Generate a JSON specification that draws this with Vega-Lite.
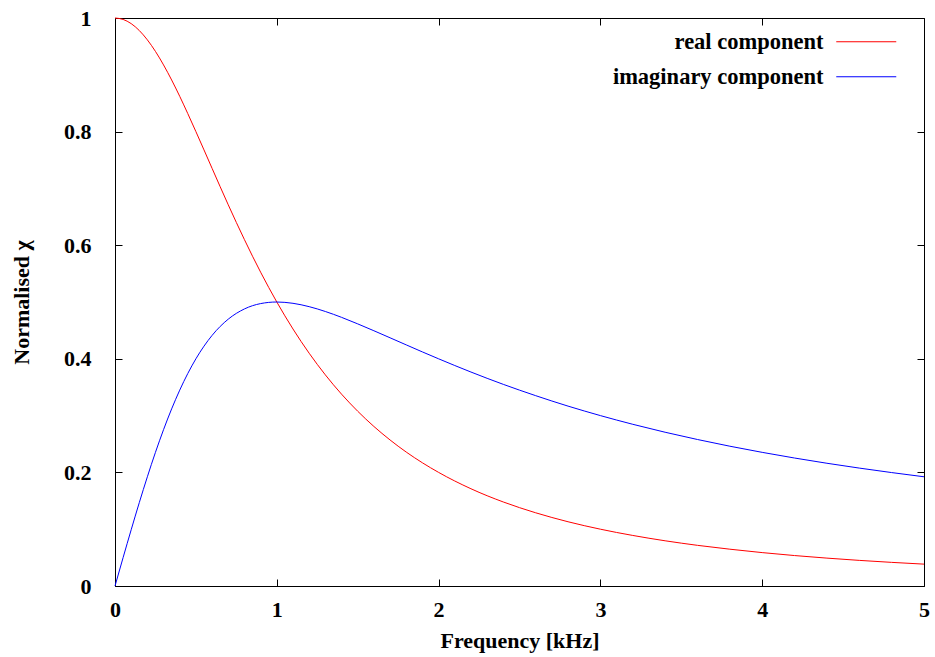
{
  "$schema": "https://vega.github.io/schema/vega-lite/v6.json",
  "width": 809,
  "height": 568,
  "autosize": {"type": "none"},
  "padding": {"left": 115, "top": 18, "right": 11, "bottom": 71},
  "background": "white",
  "config": {
    "font": "Liberation Serif",
    "view": {"stroke": "black", "strokeWidth": 1},
    "axis": {
      "grid": false,
      "domainColor": "black",
      "tickColor": "black",
      "labelFont": "Liberation Serif",
      "labelFontWeight": "bold",
      "labelFontSize": 22,
      "labelColor": "black",
      "labelFlush": false,
      "titleFont": "Liberation Serif",
      "titleFontWeight": "bold",
      "titleFontSize": 22,
      "titleColor": "black"
    },
    "legend": {
      "labelFont": "Liberation Serif",
      "labelFontWeight": "bold",
      "labelFontSize": 22.5,
      "labelColor": "black",
      "labelLimit": 400
    }
  },
  "data": {
    "values": [
      {"f": 0, "real component": 1, "imaginary component": 0},
      {"f": 0.05, "real component": 0.9975, "imaginary component": 0.0499},
      {"f": 0.1, "real component": 0.9901, "imaginary component": 0.099},
      {"f": 0.15, "real component": 0.978, "imaginary component": 0.1467},
      {"f": 0.2, "real component": 0.9615, "imaginary component": 0.1923},
      {"f": 0.25, "real component": 0.9412, "imaginary component": 0.2353},
      {"f": 0.3, "real component": 0.9174, "imaginary component": 0.2752},
      {"f": 0.35, "real component": 0.8909, "imaginary component": 0.3118},
      {"f": 0.4, "real component": 0.8621, "imaginary component": 0.3448},
      {"f": 0.45, "real component": 0.8316, "imaginary component": 0.3742},
      {"f": 0.5, "real component": 0.8, "imaginary component": 0.4},
      {"f": 0.6, "real component": 0.7353, "imaginary component": 0.4412},
      {"f": 0.7, "real component": 0.6711, "imaginary component": 0.4698},
      {"f": 0.8, "real component": 0.6098, "imaginary component": 0.4878},
      {"f": 0.9, "real component": 0.5525, "imaginary component": 0.4972},
      {"f": 1.0, "real component": 0.5, "imaginary component": 0.5},
      {"f": 1.1, "real component": 0.4525, "imaginary component": 0.4977},
      {"f": 1.2, "real component": 0.4098, "imaginary component": 0.4918},
      {"f": 1.3, "real component": 0.3717, "imaginary component": 0.4833},
      {"f": 1.4, "real component": 0.3378, "imaginary component": 0.473},
      {"f": 1.5, "real component": 0.3077, "imaginary component": 0.4615},
      {"f": 1.6, "real component": 0.2809, "imaginary component": 0.4494},
      {"f": 1.7, "real component": 0.2571, "imaginary component": 0.437},
      {"f": 1.8, "real component": 0.2358, "imaginary component": 0.4245},
      {"f": 1.9, "real component": 0.2169, "imaginary component": 0.4121},
      {"f": 2.0, "real component": 0.2, "imaginary component": 0.4},
      {"f": 2.2, "real component": 0.1712, "imaginary component": 0.3767},
      {"f": 2.4, "real component": 0.1479, "imaginary component": 0.355},
      {"f": 2.6, "real component": 0.1289, "imaginary component": 0.3351},
      {"f": 2.8, "real component": 0.1131, "imaginary component": 0.3167},
      {"f": 3.0, "real component": 0.1, "imaginary component": 0.3},
      {"f": 3.2, "real component": 0.089, "imaginary component": 0.2847},
      {"f": 3.4, "real component": 0.0796, "imaginary component": 0.2707},
      {"f": 3.6, "real component": 0.0716, "imaginary component": 0.2579},
      {"f": 3.8, "real component": 0.0648, "imaginary component": 0.2461},
      {"f": 4.0, "real component": 0.0588, "imaginary component": 0.2353},
      {"f": 4.2, "real component": 0.0536, "imaginary component": 0.2253},
      {"f": 4.4, "real component": 0.0491, "imaginary component": 0.2161},
      {"f": 4.6, "real component": 0.0451, "imaginary component": 0.2076},
      {"f": 4.8, "real component": 0.0416, "imaginary component": 0.1997},
      {"f": 5.0, "real component": 0.0385, "imaginary component": 0.1923}
    ]
  },
  "transform": [
    {"fold": ["real component", "imaginary component"], "as": ["series", "value"]}
  ],
  "layer": [
    {
      "mark": {"type": "line", "strokeWidth": 1, "interpolate": "monotone"},
      "encoding": {
        "x": {
          "field": "f", "type": "quantitative",
          "scale": {"domain": [0, 5], "nice": false, "zero": false},
          "axis": {"title": "Frequency [kHz]", "values": [0, 1, 2, 3, 4, 5], "format": "d", "tickSize": -7, "labelPadding": 20, "titlePadding": 10, "domain": false}
        },
        "y": {
          "field": "value", "type": "quantitative",
          "scale": {"domain": [0, 1], "nice": false},
          "axis": {"title": "Normalised χ", "values": [0, 0.2, 0.4, 0.6, 0.8, 1], "format": "~g", "tickSize": -7, "labelPadding": 31, "titlePadding": 30, "domain": false}
        },
        "color": {
          "field": "series", "type": "nominal",
          "scale": {"domain": ["real component", "imaginary component"], "range": ["#ff0000", "#0000ff"]},
          "legend": {
            "title": null,
            "orient": "none",
            "legendX": 740,
            "legendY": 12.5,
            "symbolType": "M-3,0H3",
            "symbolSize": 400,
            "symbolStrokeWidth": 1,
            "symbolFillColor": "transparent",
            "labelAlign": "right",
            "labelOffset": -54,
            "rowPadding": 12
          }
        }
      }
    },
    {
      "mark": {"type": "line", "strokeOpacity": 0},
      "encoding": {
        "x": {
          "field": "f", "type": "quantitative",
          "axis": {"orient": "top", "title": null, "labels": false, "values": [0, 1, 2, 3, 4, 5], "tickSize": -7, "domain": false}
        },
        "y": {
          "field": "value", "type": "quantitative",
          "axis": {"orient": "right", "title": null, "labels": false, "values": [0, 0.2, 0.4, 0.6, 0.8, 1], "tickSize": -7, "domain": false}
        },
        "detail": {"field": "series"}
      }
    }
  ],
  "resolve": {"axis": {"x": "independent", "y": "independent"}}
}
